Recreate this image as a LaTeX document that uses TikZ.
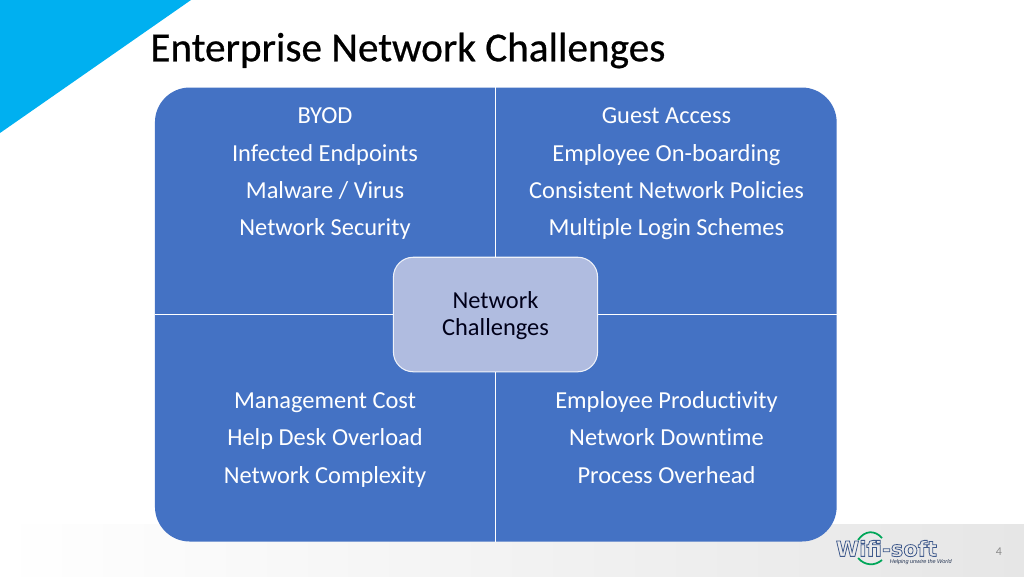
\documentclass[tikz,border=0pt]{standalone}
\usepackage{fontspec}
\setmainfont[Ligatures=NoCommon]{Carlito}
\newfontfamily\titlefont[FakeBold=0.6,Ligatures=NoCommon]{Carlito}
\newfontfamily\logofont{DejaVu Sans}
\newfontfamily\tagfont{Liberation Sans}
\newcommand{\outlinetext}[1]{\special{pdf:code 1 Tr 0.45 w}#1\special{pdf:code 0 Tr}}
\definecolor{panelblue}{HTML}{4472C4}
\definecolor{hubblue}{HTML}{B0BCE0}
\definecolor{cornerblue}{HTML}{00B0F0}
\definecolor{footgray}{HTML}{E6E6E6}
\definecolor{logoblue}{HTML}{3F5A8C}
\tikzset{
	panel/.style={rounded corners=19.8pt, fill=panelblue, minimum width=388pt, minimum height=258.4pt, inner sep=0pt},
	hub/.style={rounded corners=11.3pt, fill=hubblue, draw=white!80!hubblue, line width=0.6pt, minimum width=116.2pt, minimum height=65.2pt, align=center, inner sep=0pt, font=\fontsize{13.9}{15.4}\selectfont, text=black!90!blue},
	paneltext/.style={text=white, align=center, inner sep=0pt, font=\fontsize{13.9}{21.25}\selectfont},
	divider/.style={draw=white, line width=0.6pt}
}
\begin{document}
\begin{tikzpicture}[x=0.02cm, y=-0.02cm]
	\useasboundingbox (0,0) rectangle (1024,576);
	% footer and corner
	\fill[left color=white, right color=footgray] (0,524) rectangle (1024,576);
	\fill[cornerblue] (0,0)--(191,0)--(0,133)--cycle;
	\node[anchor=west, inner sep=0pt, font=\titlefont\fontsize{23.45}{26}\selectfont] (title) at (150,50.5) {Enterprise Network Challenges};
	% panel with the hub on top
	\node[panel] (board) at (495.8,314.5) {};
	\node[paneltext] (security) at (325,172.4) {\strut BYOD\\Infected Endpoints\\Malware / Virus\\Network Security\strut};
	\node[paneltext] (access) at (666.5,172.4) {\strut Guest Access\\Employee On-boarding\\Consistent Network Policies\\Multiple Login Schemes\strut};
	\node[paneltext] (cost) at (325,438.4) {\strut Management Cost\\Help Desk Overload\\Network Complexity\strut};
	\node[paneltext] (productivity) at (666.5,438.4) {\strut Employee Productivity\\Network Downtime\\Process Overhead\strut};
	\node[hub] (challenges) at (495.5,314.5) {};
	\node[align=center, inner sep=0pt, text=black!90!blue, font=\fontsize{13.9}{15.4}\selectfont] (challengestext) at (495.5,316.5) {\strut Network\\Challenges\strut};
	\draw[divider] (board.north -| challenges.north)--(challenges.north);
	\draw[divider] (board.south -| challenges.south)--(challenges.south);
	\draw[divider] (board.west |- challenges.west)--(challenges.west);
	\draw[divider] (board.east |- challenges.east)--(challenges.east);
	% logo
	\draw[teal!70!green, line width=1pt] (858,540) .. controls (865,530) and (875,530) .. (882,538);
	\draw[teal!70!green, line width=1pt] (858,558) .. controls (865,566) and (875,566) .. (882,560);
	\node[anchor=center, inner sep=0pt, text=logoblue, font=\logofont\bfseries\fontsize{12}{12}\selectfont] (logo) at (886.5,548.5) {\outlinetext{Wifi-soft}};
	\node[anchor=east, inner sep=0pt, text=logoblue!60!black, font=\tagfont\itshape\fontsize{3.15}{4}\selectfont] (tagline) at (952,562) {Helping unwire the World};
	\node[inner sep=0pt, text=black!45, font=\fontsize{6.8}{8}\selectfont] (pagenum) at (999,552) {4};
\end{tikzpicture}
\end{document}
